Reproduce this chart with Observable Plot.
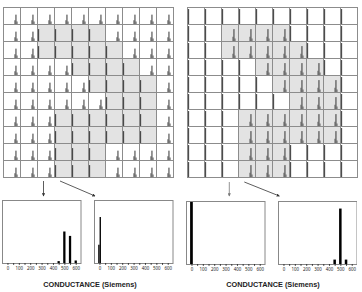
<!DOCTYPE html>
<html><head><meta charset="utf-8">
<script src="https://cdn.jsdelivr.net/npm/d3@7"></script>
<script src="https://cdn.jsdelivr.net/npm/@observablehq/plot@0.6"></script>
<style>
body{margin:0;background:#fff;font-family:"Liberation Sans",Arial,sans-serif;}
#fig{position:relative;width:362px;height:292px;overflow:hidden;background:#fff;}
#fig > svg{position:absolute;}
</style></head><body><div id="fig"></div>
<script>
// grid layout (10 x 10 cells)
const gridCols = d3.range(10);
const gridRows = d3.range(10);
// shaded cells ("1") in both grids
const shadedMask = [
  "0000000000",
  "0011110000",
  "0011111000",
  "0000111100",
  "0000011110",
  "0000001110",
  "0001111110",
  "0001111110",
  "0001110000",
  "0001110000"
];
// mini-histograms in the grid cells (conductance bins, fraction of cell height)
const leftOpenBins = [450, 500, 550];
const leftOpenCounts = [0.22, 0.55, 0.15];
const leftShadedBins = [0];
const leftShadedCounts = [0.7];
const rightOpenBins = [0];
const rightOpenCounts = [0.88];
const rightShadedBins = [450, 500, 550];
const rightShadedCounts = [0.25, 0.7, 0.15];
// enlarged example histograms (conductance, % of time)
const exA_bins = [450, 500, 550, 600];
const exA_counts = [3, 50, 43, 4];
const exB_bins = [-5, 7];
const exB_counts = [29, 73];
const exC_bins = [0];
const exC_counts = [99];
const exD_bins = [450, 500, 550];
const exD_counts = [7, 88, 7];
const xTicks = [0, 50, 100, 150, 200, 250, 300, 350, 400, 450, 500, 550, 600];
const axisTitle = "CONDUCTANCE (Siemens)";

const fig = document.getElementById("fig");

function cellsFor(openB, openC, shB, shC) {
  const bars = [], shaded = [];
  for (const r of gridRows) for (const c of gridCols) {
    const s = shadedMask[r][c] === "1";
    if (s) shaded.push({row: r, col: c});
    const B = s ? shB : openB, C = s ? shC : openC;
    const mx = d3.max(C);
    B.forEach((b, i) => bars.push({row: r, col: c, c: b, n: C[i], main: C[i] === mx}));
  }
  return {bars, shaded};
}

function gridPlot(d, left, top) {
  const p = Plot.plot({
    width: 176, height: 177, margin: 1,
    x: {domain: [-50, 700], axis: null},
    y: {domain: [0, 1], axis: null},
    fx: {domain: gridCols, padding: 0, axis: null},
    fy: {domain: gridRows, padding: 0, axis: null},
    marks: [
      Plot.rect(d.shaded, {fx: "col", fy: "row", fill: "#e3e3e3"}),
      Plot.ruleX(d.bars.filter(b => !b.main), {fx: "col", fy: "row", x: "c", y1: 0, y2: "n", stroke: "#999", strokeWidth: 1.6}),
      Plot.ruleX(d.bars.filter(b => b.main), {fx: "col", fy: "row", x: "c", y1: 0, y2: "n", stroke: "#333", strokeWidth: 1}),
      Plot.frame({stroke: "#8c8c8c"})
    ]
  });
  p.style.left = left + "px"; p.style.top = top + "px";
  fig.appendChild(p);
}

gridPlot(cellsFor(leftOpenBins, leftOpenCounts, leftShadedBins, leftShadedCounts), 0, 3);
gridPlot(cellsFor(rightOpenBins, rightOpenCounts, rightShadedBins, rightShadedCounts), 184, 3);

function examplePlot(bins, counts, hw, left, top) {
  const data = bins.map((b, i) => ({c: b, n: counts[i]}));
  const p = Plot.plot({
    width: 80.5, height: 78, marginTop: 1, marginLeft: 1, marginRight: 1, marginBottom: 14,
    x: {domain: [-48, 642], axis: null},
    y: {domain: [0, 100], axis: null},
    marks: [
      Plot.rectY(data, {x1: d => d.c - hw, x2: d => d.c + hw, y1: 0, y2: "n", fill: "#000"}),
      Plot.frame({stroke: "#888"}),
      Plot.axisX({ticks: xTicks, tickSize: 1.8, tickPadding: 2, tickFormat: d => d % 100 ? "" : d, fontSize: 4.4, stroke: "#333", fill: "#222"})
    ]
  });
  p.style.left = left + "px"; p.style.top = top + "px";
  fig.appendChild(p);
}
examplePlot(exA_bins, exA_counts, 10, 1.3, 199.3);
examplePlot(exB_bins, exB_counts, 6, 93.3, 199.3);
examplePlot(exC_bins, exC_counts, 12, 185, 200);
examplePlot(exD_bins, exD_counts, 11, 276.7, 200);

// annotation overlay: arrows and axis titles
const ns = "http://www.w3.org/2000/svg";
const ov = document.createElementNS(ns, "svg");
ov.setAttribute("width", 362); ov.setAttribute("height", 292);
ov.style.left = "0px"; ov.style.top = "0px";
ov.innerHTML = `
<defs><marker id="ah" viewBox="0 0 6 6" refX="5" refY="3" markerWidth="4" markerHeight="4" orient="auto"><path d="M0,0L6,3L0,6z" fill="#333"/></marker>
<marker id="ah2" viewBox="0 0 6 6" refX="5" refY="3" markerWidth="4" markerHeight="4" orient="auto"><path d="M0,0L6,3L0,6z" fill="#777"/></marker></defs>
<line x1="43.5" y1="181" x2="43.5" y2="196" stroke="#333" stroke-width="0.8" marker-end="url(#ah)"/>
<line x1="60" y1="181" x2="95" y2="196" stroke="#333" stroke-width="0.8" marker-end="url(#ah)"/>
<line x1="229.3" y1="182" x2="229.3" y2="196" stroke="#777" stroke-width="0.8" marker-end="url(#ah2)"/>
<line x1="244.3" y1="182" x2="279.3" y2="196" stroke="#333" stroke-width="0.8" marker-end="url(#ah)"/>
<text x="90" y="286.5" text-anchor="middle" font-size="7.3" font-weight="bold" fill="#222">${axisTitle}</text>
<text x="273" y="286.5" text-anchor="middle" font-size="7.3" font-weight="bold" fill="#222">${axisTitle}</text>`;
fig.appendChild(ov);
</script>
</body></html>
